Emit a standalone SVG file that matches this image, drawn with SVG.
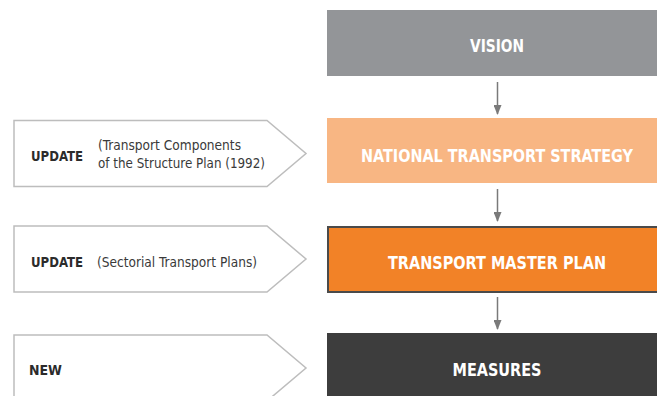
<svg xmlns="http://www.w3.org/2000/svg" width="657" height="396" viewBox="0 0 657 396">
<style>
.tag{fill:#fff;stroke:#bdbdbd;stroke-width:1.5}
.lbl{font-family:"DejaVu Sans Condensed","DejaVu Sans",sans-serif;font-weight:bold;font-size:14.5px;fill:#2b2b2b}
.sub{font-family:"DejaVu Sans Condensed","DejaVu Sans",sans-serif;font-size:14px;fill:#3a3a3a}
.big{font-family:"DejaVu Sans Condensed","DejaVu Sans",sans-serif;font-weight:bold;font-size:18.5px;fill:#fff;text-anchor:middle}
.conn{stroke:#7a7a7a;stroke-width:1.5;fill:none}
</style>
<defs>
<marker id="ah" markerWidth="10" markerHeight="8" refX="9" refY="4" orient="auto" markerUnits="userSpaceOnUse">
<path d="M0,0 L10,4 L0,8 Z" fill="#7a7a7a"/>
</marker>
</defs>
<rect width="657" height="396" fill="#fff"/>
<g id="vision">
<rect x="327" y="10" width="335" height="66" fill="#939598"/>
<text class="big" x="497" y="52" textLength="54" lengthAdjust="spacingAndGlyphs">VISION</text>
</g>
<g id="nts">
<rect x="327" y="118" width="335" height="65" fill="#f8b683"/>
<text class="big" x="497" y="162" style="font-size:17px" textLength="272" lengthAdjust="spacingAndGlyphs">NATIONAL TRANSPORT STRATEGY</text>
</g>
<g id="tmp">
<rect x="328" y="227" width="335" height="65" fill="#f28227" stroke="#4a4a4a" stroke-width="2"/>
<text class="big" x="497" y="269" textLength="218" lengthAdjust="spacingAndGlyphs">TRANSPORT MASTER PLAN</text>
</g>
<g id="measures">
<rect x="327" y="333" width="335" height="70" fill="#3d3d3d"/>
<text class="big" x="497" y="376" textLength="89" lengthAdjust="spacingAndGlyphs">MEASURES</text>
</g>
<g id="tag1">
<path class="tag" d="M14,120.5 H267 L306,153.5 L267,186.5 H14 Z"/>
<text class="lbl" x="31" y="161" textLength="52" lengthAdjust="spacingAndGlyphs">UPDATE</text>
<text class="sub" x="98" y="150" textLength="143" lengthAdjust="spacingAndGlyphs">(Transport Components</text>
<text class="sub" x="98" y="168" textLength="167" lengthAdjust="spacingAndGlyphs">of the Structure Plan (1992)</text>
</g>
<g id="tag2">
<path class="tag" d="M14,226 H267 L306,259 L267,292 H14 Z"/>
<text class="lbl" x="31" y="267" textLength="52" lengthAdjust="spacingAndGlyphs">UPDATE</text>
<text class="sub" x="97" y="267" textLength="160" lengthAdjust="spacingAndGlyphs">(Sectorial Transport Plans)</text>
</g>
<g id="tag3">
<path class="tag" d="M14,335 H267 L306,368 L267,401 H14 Z"/>
<text class="lbl" x="29" y="375" textLength="33" lengthAdjust="spacingAndGlyphs">NEW</text>
</g>
<g id="connectors">
<line class="conn" x1="497.5" y1="82" x2="497.5" y2="114" marker-end="url(#ah)"/>
<line class="conn" x1="497.5" y1="189" x2="497.5" y2="221" marker-end="url(#ah)"/>
<line class="conn" x1="497.5" y1="297" x2="497.5" y2="329" marker-end="url(#ah)"/>
</g>
</svg>
